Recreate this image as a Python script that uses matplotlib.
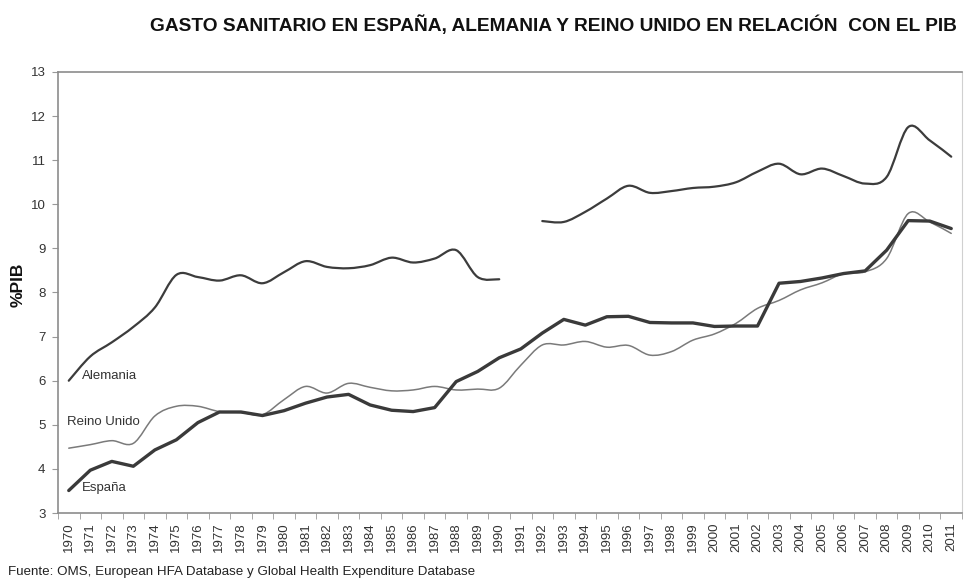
import numpy as np
import matplotlib
matplotlib.use("Agg")
import matplotlib.pyplot as plt
from matplotlib.path import Path
from matplotlib.patches import PathPatch

# data (% of GDP)
years = list(range(1970, 2012))

alemania = [6.00, 6.55, 6.87, 7.22, 7.66, 8.40, 8.35, 8.27, 8.39, 8.21,
            8.46, 8.71, 8.58, 8.55, 8.62, 8.79, 8.68, 8.77, 8.96, 8.35,
            8.30, None, 9.62, 9.60, 9.83, 10.13, 10.42, 10.26, 10.30, 10.37,
            10.40, 10.50, 10.74, 10.92, 10.68, 10.81, 10.64, 10.47, 10.62, 11.75,
            11.45, 11.08]

espana = [3.51, 3.97, 4.17, 4.06, 4.43, 4.66, 5.05, 5.29, 5.29, 5.21,
          5.32, 5.49, 5.63, 5.69, 5.45, 5.33, 5.30, 5.39, 5.98, 6.21,
          6.52, 6.72, 7.08, 7.39, 7.26, 7.45, 7.46, 7.32, 7.31, 7.31,
          7.23, 7.24, 7.24, 8.21, 8.25, 8.33, 8.43, 8.49, 8.96, 9.63,
          9.62, 9.45]

reino_unido = [4.47, 4.55, 4.64, 4.58, 5.20, 5.42, 5.42, 5.30, 5.28, 5.23,
               5.57, 5.87, 5.72, 5.94, 5.85, 5.77, 5.79, 5.87, 5.79, 5.81,
               5.83, 6.35, 6.81, 6.81, 6.89, 6.76, 6.80, 6.58, 6.66, 6.92,
               7.06, 7.30, 7.64, 7.82, 8.06, 8.22, 8.43, 8.47, 8.77, 9.79,
               9.60, 9.34]

title = "GASTO SANITARIO EN ESPAÑA, ALEMANIA Y REINO UNIDO EN RELACIÓN  CON EL PIB"
fuente = "Fuente: OMS, European HFA Database y Global Health Expenditure Database"

plt.rcParams['font.family'] = ['Liberation Sans', 'DejaVu Sans']


def smooth_path(xs, ys):
    # Excel style smoothed line: cubic bezier through every point
    verts = [(xs[0], ys[0])]
    codes = [Path.MOVETO]
    n = len(xs)
    for i in range(n - 1):
        x0, y0 = (xs[i - 1], ys[i - 1]) if i > 0 else (xs[i], ys[i])
        x1, y1 = xs[i], ys[i]
        x2, y2 = xs[i + 1], ys[i + 1]
        x3, y3 = (xs[i + 2], ys[i + 2]) if i + 2 < n else (x2, y2)
        c1 = (x1 + (x2 - x0) / 6.0, y1 + (y2 - y0) / 6.0)
        c2 = (x2 - (x3 - x1) / 6.0, y2 - (y3 - y1) / 6.0)
        verts += [c1, c2, (x2, y2)]
        codes += [Path.CURVE4] * 3
    return Path(verts, codes)


def draw_smooth(ax, vals, **kw):
    seg_x, seg_y = [], []
    for i, v in enumerate(vals + [None]):
        if v is None:
            if len(seg_x) > 1:
                ax.add_patch(PathPatch(smooth_path(seg_x, seg_y), fill=False, **kw))
            seg_x, seg_y = [], []
        else:
            seg_x.append(i)
            seg_y.append(v)


fig = plt.figure(figsize=(9.66, 5.82), dpi=100)
ax = fig.add_axes([58 / 966, 1 - 513 / 582, 904 / 966, 441 / 582])

x = np.arange(len(years))
draw_smooth(ax, reino_unido, edgecolor='#7a7a7a', linewidth=1.1, capstyle='round', joinstyle='round')
draw_smooth(ax, alemania, edgecolor='#3c3c3c', linewidth=1.6, capstyle='round', joinstyle='round')
ax.plot(x, espana, color='#3a3a3a', linewidth=2.4, solid_joinstyle='round', solid_capstyle='round')

ax.set_xlim(-0.5, len(years) - 0.5)
ax.set_ylim(3, 13)
ax.set_yticks(range(3, 14))
ax.set_xticks(x)
ax.set_xticklabels([str(y) for y in years], rotation=90, fontsize=9.5, color='#333333')
ax.set_xticks(np.arange(-0.5, len(years)), minor=True)
ax.tick_params(axis='x', which='major', length=0, pad=7)
ax.tick_params(axis='x', which='minor', length=4, color='#999999', direction='out')
ax.tick_params(axis='y', length=4, color='#999999', direction='out', labelsize=9.5,
               labelcolor='#333333', pad=5)

for side in ['left', 'bottom', 'top']:
    ax.spines[side].set_color('#8c8c8c')
    ax.spines[side].set_linewidth(1.2)
ax.spines['right'].set_color('#d0d0d0')

fig.text(18 / 966, 1 - 285 / 582, '%PIB', fontsize=12.5, fontweight='bold',
         rotation=90, ha='center', va='center', color='#111111')

ax.text(0.6, 6.1, 'Alemania', fontsize=9.5, color='#333333', va='center')
ax.text(-0.1, 5.07, 'Reino Unido', fontsize=9.5, color='#333333', va='center')
ax.text(0.6, 3.57, 'España', fontsize=9.5, color='#333333', va='center')

fig.text(553 / 966, 1 - 25 / 582, title, fontsize=13.8, fontweight='bold',
         ha='center', va='center', color='#111111')
fig.text(8 / 966, 1 - 572 / 582, fuente, fontsize=9.6, color='#222222', va='center')

fig.savefig('out.png', dpi=100)
